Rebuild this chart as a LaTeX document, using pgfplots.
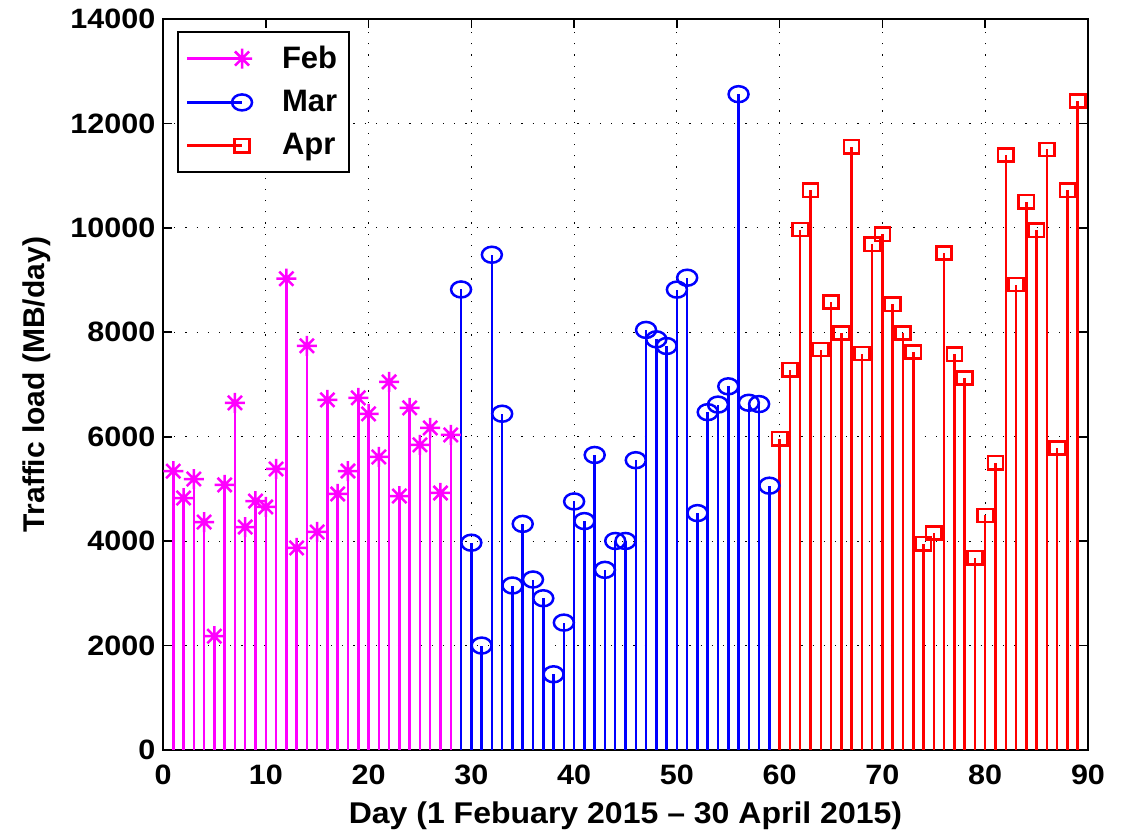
\documentclass[border=0pt]{standalone}
\usepackage{fontspec}
\setmainfont{Liberation Sans}
\usepackage{pgfplots}
\usepackage{pgfplotstable}
\pgfplotsset{compat=1.18}

\definecolor{mmag}{rgb}{1,0,1}
\definecolor{mblue}{rgb}{0,0,1}
\definecolor{mred}{rgb}{1,0,0}

\pgfdeclareplotmark{ast8}{%
  \pgfpathmoveto{\pgfqpoint{0pt}{\pgfplotmarksize}}%
  \pgfpathlineto{\pgfqpoint{0pt}{-\pgfplotmarksize}}%
  \pgfpathmoveto{\pgfqpoint{\pgfplotmarksize}{0pt}}%
  \pgfpathlineto{\pgfqpoint{-\pgfplotmarksize}{0pt}}%
  \pgfpathmoveto{\pgfqpoint{0.707\pgfplotmarksize}{0.707\pgfplotmarksize}}%
  \pgfpathlineto{\pgfqpoint{-0.707\pgfplotmarksize}{-0.707\pgfplotmarksize}}%
  \pgfpathmoveto{\pgfqpoint{0.707\pgfplotmarksize}{-0.707\pgfplotmarksize}}%
  \pgfpathlineto{\pgfqpoint{-0.707\pgfplotmarksize}{0.707\pgfplotmarksize}}%
  \pgfusepathqstroke}

\pgfplotstableread{
x y
1 5340
2 4826
3 5190
4 4365
5 2180
6 5077
7 6648
8 4270
9 4768
10 4654
11 5382
12 9026
13 3870
14 7741
15 4175
16 6706
17 4903
18 5343
19 6744
20 6437
21 5612
22 7050
23 4864
24 6552
25 5843
26 6168
27 4922
28 6034
}\feb

\pgfplotstableread{
x y
29 8820
30 3970
31 2000
32 9485
33 6440
34 3150
35 4330
36 3265
37 2906
38 1450
39 2440
40 4760
41 4384
42 5650
43 3450
44 4003
45 4003
46 5550
47 8045
48 7865
49 7737
50 8817
51 9045
52 4537
53 6470
54 6615
55 6965
56 12560
57 6650
58 6625
59 5062
}\mar

\pgfplotstableread{
x y
60 5961
61 7284
62 9968
63 10722
64 7668
65 8581
66 7987
67 11553
68 7591
69 9687
70 9879
71 8537
72 7987
73 7623
74 3949
75 4153
76 9521
77 7578
78 7124
79 3680
80 4492
81 5501
82 11393
83 8914
84 10498
85 9955
86 11502
87 5783
88 10722
89 12428
}\apr

\pgfplotsset{
  stemlegend/.style={legend image code/.code={%
    \draw[##1,sharp plot,mark repeat=2,mark phase=2] plot coordinates {(3pt,0pt) (30.5pt,0pt)};}},
}

\begin{document}
\begin{tikzpicture}
\useasboundingbox (0,0) rectangle (568.5pt,415pt);
\begin{axis}[
  at={(81.5pt,40pt)}, anchor=south west,
  scale only axis, width=462.5pt, height=365.5pt,
  xmin=0, xmax=90, ymin=0, ymax=14000,
  xtick={0,10,...,90}, ytick={0,2000,...,14000},
  scaled y ticks=false,
  /pgf/number format/1000 sep={},
  /pgf/number format/assume math mode=true,
  tick align=inside, tick pos=both,
  major tick length=4.5pt,
  axis line style={line width=0.9pt},
  every tick/.style={black, line width=0.8pt},
  grid=major,
  major grid style={black, line width=0.6pt, dash pattern=on 0.6pt off 5pt},
  tick label style={font=\fontsize{14}{17}\selectfont\bfseries, xscale=1.09},
  xticklabel style={yshift=-4pt},
  label style={font=\fontsize{15}{18}\selectfont\bfseries},
  xlabel={Day (1 Febuary 2015 -- 30 April 2015)},
  ylabel={Traffic load (MB/day)},
  xlabel style={at={(axis description cs:0.5,0)}, anchor=base, yshift=-37pt, xscale=1.067},
  ylabel style={yshift=2.5pt},
  legend style={at={(0.0151,0.9836)}, anchor=north west,
    font=\fontsize{15.5}{18}\selectfont\bfseries,
    draw=black, line width=0.8pt, row sep=5.5pt, column sep=13pt,
    inner xsep=4pt, inner ysep=5pt},
  legend cell align=left,
]
\addplot[ycomb, mmag, line width=1.25pt, mark=ast8, mark size=5pt,
  mark options={solid, line width=1.25pt}, stemlegend] table {\feb};
\addlegendentry{Feb}
\addplot[ycomb, mblue, line width=1.25pt, mark=o, mark size=4pt,
  mark options={solid, line width=1.25pt, xscale=1.25}, stemlegend] table {\mar};
\addlegendentry{Mar}
\addplot[ycomb, mred, line width=1.25pt, mark=square, mark size=3.3pt,
  mark options={solid, line width=1.25pt, xscale=1.15}, stemlegend] table {\apr};
\addlegendentry{Apr}
\end{axis}
\end{tikzpicture}
\end{document}
